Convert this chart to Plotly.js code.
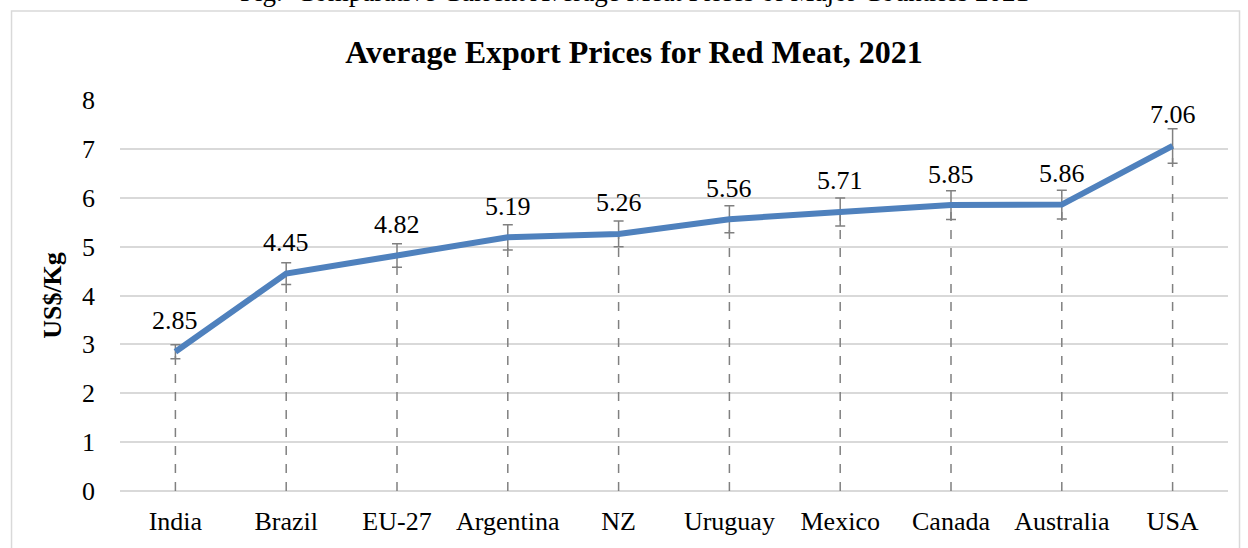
<!DOCTYPE html>
<html>
<head>
<meta charset="utf-8">
<script src="https://cdn.plot.ly/plotly-3.0.1.min.js"></script>
<style>html,body{margin:0;padding:0;background:#fff;}#chart{width:1248px;height:548px;}</style>
</head>
<body>
<div id="chart"></div>
<script>
const countries = ["India", "Brazil", "EU-27", "Argentina", "NZ", "Uruguay", "Mexico", "Canada", "Australia", "USA"];
const prices = [2.85, 4.45, 4.82, 5.19, 5.26, 5.56, 5.71, 5.85, 5.86, 7.06];
const errorPercent = 5;
const yTicks = [0, 1, 2, 3, 4, 5, 6, 7, 8];

const serif = "Liberation Serif";

// Drop lines from each point down to the axis
const dropX = [], dropY = [];
countries.forEach((c, i) => { dropX.push(c, c, null); dropY.push(0, prices[i], null); });

const traces = [
  {
    x: dropX, y: dropY, type: "scatter", mode: "lines",
    line: {color: "#808080", width: 1.5, dash: "dash"},
    hoverinfo: "skip", showlegend: false
  },
  {
    x: countries, y: prices, type: "scatter", mode: "lines",
    line: {color: "#4F81BD", width: 6},
    error_y: {type: "percent", value: errorPercent, color: "#808080", thickness: 1.5, width: 5},
    showlegend: false
  }
];

const annotations = countries.map((c, i) => ({
  x: c, y: prices[i], xref: "x", yref: "y", text: prices[i].toFixed(2),
  showarrow: false, yshift: 31, yanchor: "middle",
  font: {family: serif, size: 26, color: "#000"}
}));
annotations.push({
  text: "Fig.  Comparative Current Average Meat Prices of Major Countries 2021",
  xref: "paper", yref: "paper", x: 0.464, y: 1.232, yanchor: "bottom", showarrow: false,
  font: {family: serif, size: 27, color: "#000"}
});

const layout = {
  width: 1248, height: 548,
  margin: {l: 119.6, r: 19.6, t: 100, b: 57},
  paper_bgcolor: "#fff", plot_bgcolor: "#fff",
  font: {family: serif},
  title: {
    text: "<b>Average Export Prices for Red Meat, 2021</b>",
    font: {family: serif, size: 32, color: "#000"},
    x: 0.508, xanchor: "center", y: 0.905, yanchor: "middle"
  },
  xaxis: {
    type: "category", range: [-0.5, 9.5],
    showgrid: false, zeroline: false, showline: false, ticks: "",
    ticklabelstandoff: 12,
    tickfont: {family: serif, size: 26, color: "#000"}, fixedrange: true
  },
  yaxis: {
    range: [0, 8], tickvals: yTicks, ticktext: yTicks.map(String),
    showgrid: true, gridcolor: "#d9d9d9", gridwidth: 2,
    zeroline: true, zerolinecolor: "#d9d9d9", zerolinewidth: 2,
    showline: false, ticks: "", ticklabelstandoff: 24,
    tickfont: {family: serif, size: 26, color: "#000"},
    title: {text: "<b>US$/Kg</b>", font: {family: serif, size: 26, color: "#000"}, standoff: 12},
    fixedrange: true
  },
  shapes: [{
    type: "rect", xref: "paper", yref: "paper",
    x0: -0.0979, x1: 1.0104, y0: -0.3, y1: 1.2276,
    line: {color: "#d9d9d9", width: 1.5}, fillcolor: "rgba(0,0,0,0)", layer: "below"
  }],
  annotations: annotations
};

Plotly.newPlot("chart", traces, layout, {displayModeBar: false, staticPlot: true});
</script>
</body>
</html>
